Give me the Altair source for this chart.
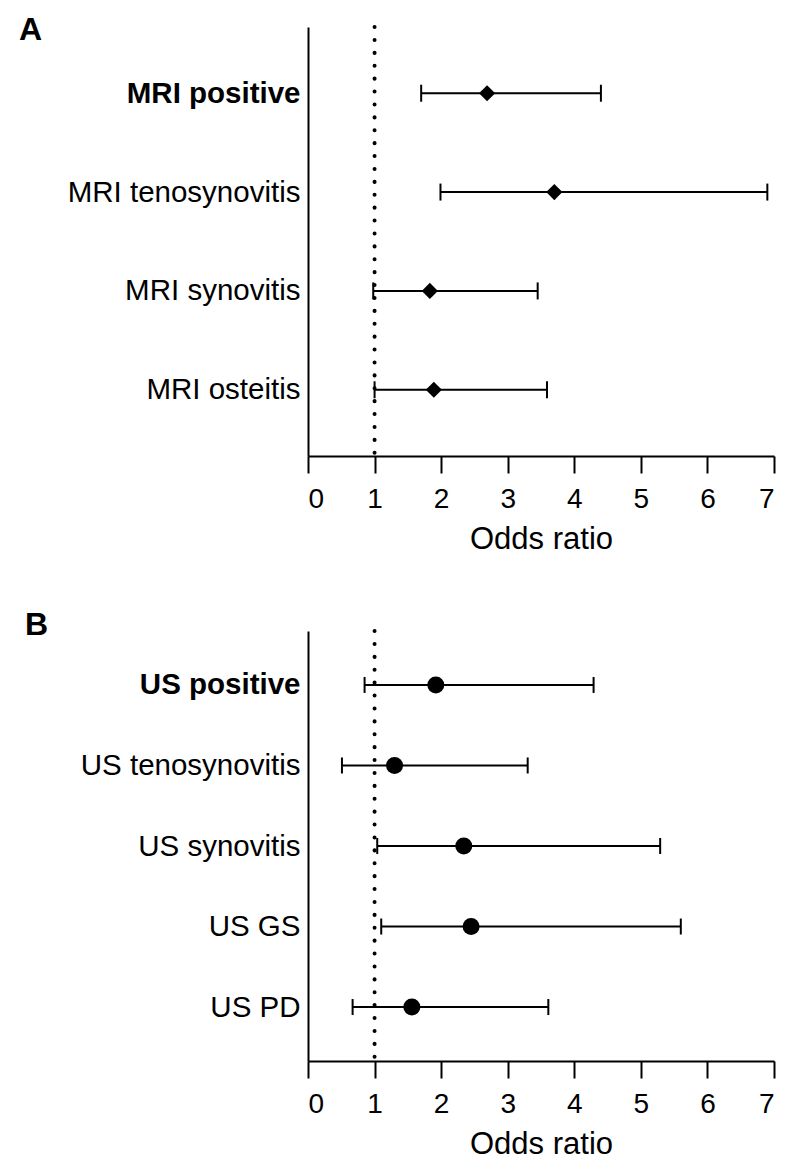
import altair as alt
import pandas as pd

# ---- data ----
mri_labels = ["MRI positive", "MRI tenosynovitis", "MRI synovitis", "MRI osteitis"]
mri_or = [2.69, 3.70, 1.83, 1.89]
mri_lo = [1.70, 1.99, 0.98, 1.00]
mri_hi = [4.40, 6.90, 3.45, 3.59]

us_labels = ["US positive", "US tenosynovitis", "US synovitis", "US GS", "US PD"]
us_or = [1.92, 1.30, 2.34, 2.45, 1.56]
us_lo = [0.85, 0.51, 1.04, 1.10, 0.67]
us_hi = [4.29, 3.30, 5.29, 5.60, 3.61]

x_ticks = [0, 1, 2, 3, 4, 5, 6, 7]
ref_line = 1

FONT = "Liberation Sans"


def panel(labels, ors, los, his, letter, shape, size, cap, height, letter_x, letter_y):
    df = pd.DataFrame({"label": labels, "or": ors, "lo": los, "hi": his})
    bold_label = labels[0]
    y_axis = alt.Axis(
        title=None, ticks=False, grid=False, labelPadding=8, labelFontSize=29.5,
        labelFont=FONT, labelColor="black", labelLimit=0,
        domainColor="black", domainWidth=2,
        labelFontWeight={"condition": {"test": f"datum.value === '{bold_label}'", "value": "bold"},
                         "value": "normal"},
    )
    y = alt.Y("label:N", sort=labels, scale=alt.Scale(type="point", padding=0.67), axis=y_axis)
    x_axis = alt.Axis(
        values=x_ticks, title="Odds ratio", format="d", grid=False,
        tickSize=17, tickWidth=2, tickColor="black",
        domainColor="black", domainWidth=2,
        labelFontSize=28, labelPadding=12, labelFont=FONT, labelColor="black",
        titleFontSize=31, titlePadding=11, titleFont=FONT, titleFontWeight="normal",
        titleColor="black",
    )
    xs = alt.Scale(domain=[0, 7], nice=False, zero=False)

    base = alt.Chart(df)
    bars = base.mark_rule(color="black", strokeWidth=2).encode(
        x=alt.X("lo:Q", scale=xs, axis=x_axis), x2="hi:Q", y=y)
    cap_lo = base.mark_tick(color="black", thickness=2, size=cap, opacity=1).encode(
        x=alt.X("lo:Q", scale=xs, axis=x_axis), y=y)
    cap_hi = base.mark_tick(color="black", thickness=2, size=cap, opacity=1).encode(
        x=alt.X("hi:Q", scale=xs, axis=x_axis), y=y)
    pts = base.mark_point(shape=shape, filled=True, size=size, color="black", opacity=1).encode(
        x=alt.X("or:Q", scale=xs, axis=x_axis), y=y)
    dotted = alt.Chart(pd.DataFrame({"v": [ref_line]})).mark_rule(
        color="black", strokeWidth=4, strokeDash=[0.1, 12.8], strokeCap="round").encode(
        x=alt.X("v:Q", scale=xs, axis=x_axis))
    lab = alt.Chart(pd.DataFrame({"t": [letter]})).mark_text(
        font=FONT, fontSize=32, fontWeight="bold", color="black", align="left",
        baseline="alphabetic").encode(
        text="t:N", x=alt.value(letter_x), y=alt.value(letter_y))
    return alt.layer(dotted, bars, cap_lo, cap_hi, pts, lab).properties(width=466, height=height)


a = panel(mri_labels, mri_or, mri_lo, mri_hi, "A", "diamond", 260, 17, 429, -289, 13)
b = panel(us_labels, us_or, us_lo, us_hi, "B", "circle", 290, 16, 430, -283, 4)

chart = alt.vconcat(a, b, spacing=55).properties(
    padding={"left": 11, "top": 6, "right": 5, "bottom": 5}
).configure_view(stroke=None)

chart.save("out.html", embed_options={"renderer": "svg", "actions": False})
